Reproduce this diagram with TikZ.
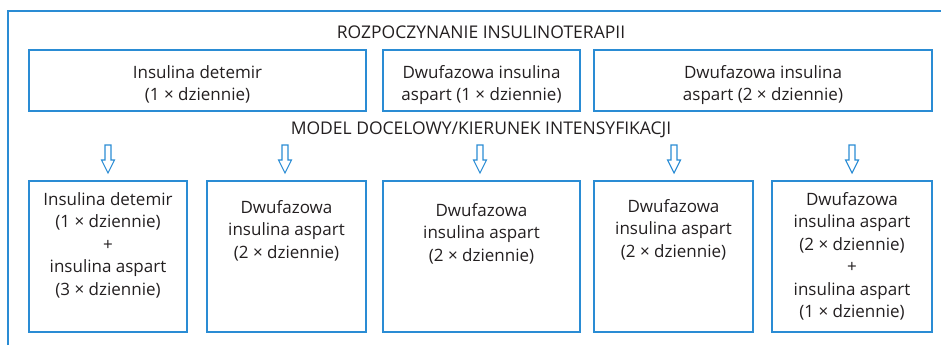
\documentclass[tikz,border=0pt]{standalone}
\usepackage{fontspec}
\setmainfont{Open Sans}
\definecolor{lineblue}{HTML}{2A8CD4}
\definecolor{txt}{HTML}{231F20}
\tikzset{
  every node/.style={text=txt, font=\fontsize{17}{22.5}\selectfont},
  titletext/.style={inner sep=0pt, font=\fontsize{17.5}{22.5}\selectfont},
  boxline/.style={draw=lineblue, line width=1.4pt},
  boxtext/.style={align=center, inner sep=0pt, anchor=north},
  hollowarrow/.pic={\draw[lineblue, line width=1.1pt, line join=miter]
     (-3,0) -- (-3,15) -- (-6.5,15) -- (0,28) -- (6.5,15) -- (3,15) -- (3,0) -- cycle;}
}
\begin{document}
\begin{tikzpicture}[x=1pt,y=-1pt]
\useasboundingbox (0,0) rectangle (941,345);
% outer frame
\coordinate (fl) at (8,345);
\coordinate (fc) at (8,11);
\coordinate (fr) at (941,11);
\draw[boxline] (fl) -- (fc) -- (fr);
% titles
\node[titletext] (t1) at (481,32) {ROZPOCZYNANIE INSULINOTERAPII};
\node[titletext] (t2) at (481,130) {MODEL DOCELOWY/KIERUNEK INTENSYFIKACJI};
% top boxes
\draw[boxline] (29,50) rectangle (366,111);
\draw[boxline] (383,50) rectangle (580,111);
\draw[boxline] (594,50) rectangle (932,111);
\node[boxtext] (a1) at (197.5,65) {Insulina detemir\\(1 × dziennie)};
\node[boxtext] (a2) at (481.5,65) {Dwufazowa insulina\\aspart (1 × dziennie)};
\node[boxtext] (a3) at (763,65) {Dwufazowa insulina\\aspart (2 × dziennie)};
% arrows
\pic at (108,145) {hollowarrow};
\pic at (285,145) {hollowarrow};
\pic at (480,145) {hollowarrow};
\pic at (674,145) {hollowarrow};
\pic at (852,145) {hollowarrow};
% bottom boxes
\draw[boxline] (29,181) rectangle (187,332);
\draw[boxline] (207,181) rectangle (366,332);
\draw[boxline] (383,181) rectangle (580,332);
\draw[boxline] (594,181) rectangle (753,332);
\draw[boxline] (772,181) rectangle (932,332);
\node[boxtext] (b1) at (108,192) {Insulina detemir\\(1 × dziennie)\\+\\insulina aspart\\(3 × dziennie)};
\node[boxtext] (b2) at (286.5,200) {Dwufazowa\\insulina aspart\\(2 × dziennie)};
\node[boxtext] (b3) at (481.5,203) {Dwufazowa\\insulina aspart\\(2 × dziennie)};
\node[boxtext] (b4) at (673.5,199) {Dwufazowa\\insulina aspart\\(2 × dziennie)};
\node[boxtext] (b5) at (852,192) {Dwufazowa\\insulina aspart\\(2 × dziennie)\\+\\insulina aspart\\(1 × dziennie)};
\end{tikzpicture}
\end{document}
